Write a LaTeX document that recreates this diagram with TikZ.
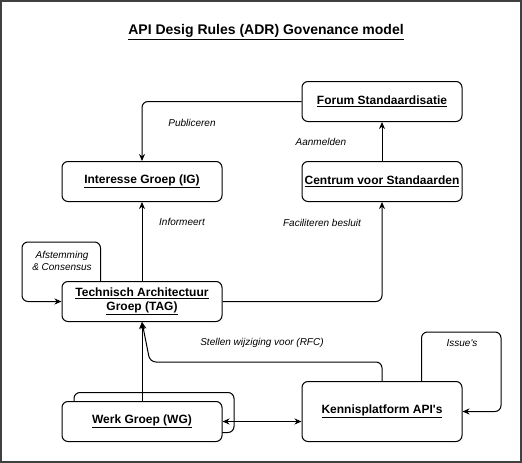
\documentclass[tikz,border=0pt]{standalone}
\usepackage{fontspec}
\setmainfont{Liberation Sans}
\usetikzlibrary{arrows.meta}

\begin{document}
\begin{tikzpicture}[x=1pt, y=-1pt]
    \tikzstyle{box} = [draw, line width=1pt, rounded corners=6pt, fill=white, minimum width=160pt, minimum height=40pt, inner sep=0pt, align=center, font=\fontsize{12}{14}\selectfont\bfseries]
    \tikzstyle{conn} = [line width=1pt, rounded corners=6pt, -{Stealth[length=7pt, width=6pt]}]
    \tikzstyle{lbl} = [font=\fontsize{10}{12}\selectfont\itshape, align=center]

    \fill [white] (0, 0) rectangle (522, 463);
    \draw [line width=2pt, black!75] (1, 1) rectangle (521, 462);

    \node (title) at (266, 32) {\fontsize{14}{16}\selectfont\bfseries\underline{API Desig Rules (ADR) Govenance model}};

    \node [box] (forum) at (382, 101.5) {\underline{Forum Standaardisatie}};
    \node [box] (ig) at (142, 181.5) {\underline{Interesse Groep (IG)}};
    \node [box] (centrum) at (382, 181.5) {\underline{Centrum voor Standaarden}};
    \node [box] (tag) at (142, 301.5) {\underline{Technisch Architectuur}\\\underline{Groep (TAG)}};
    \node [box] (wgback) at (154, 412.5) {};
    \node [box] (wg) at (142, 421.5) {\underline{Werk Groep (WG)}};
    \node [box, minimum height=60pt] (kenn) at (382, 411.5) {\underline{Kennisplatform API\textquotesingle s}};

    \coordinate (afs) at (22, 242);
    \coordinate (iss) at (501, 332);
    \coordinate (rfc) at (150, 362);

    \draw [conn] (forum.west) -| (ig.north);
    \draw [conn] (centrum.north) -- (forum.south);
    \draw [conn] (tag.north) -- (ig.south);
    \draw [conn] (tag.east) -| (centrum.south);
    \draw [conn] ([xshift=39pt]tag.north west) |- (afs) |- (tag.west);
    \draw [conn] (wg.north) -- (tag.south);
    \draw [conn] (kenn.north) |- (rfc) -- (tag.south);
    \draw [conn] ([xshift=120pt]kenn.north west) |- (iss) |- (kenn.east);
    \draw [conn, {Stealth[length=7pt, width=6pt]}-{Stealth[length=7pt, width=6pt]}] (wg.east) -- (wg.east -| kenn.west);

    \node [lbl] (publ) at (192, 123) {Publiceren};
    \node [lbl] (aanm) at (321, 142) {Aanmelden};
    \node [lbl] (info) at (182, 222) {Informeert};
    \node [lbl] (facil) at (322, 223) {Faciliteren besluit};
    \node [lbl] (afst) at (62, 261) {Afstemming\\\& Consensus};
    \node [lbl] (stel) at (262, 343) {Stellen wijziging voor (RFC)};
    \node [lbl] (issl) at (462, 343) {Issue\textquotesingle s};
\end{tikzpicture}
\end{document}
